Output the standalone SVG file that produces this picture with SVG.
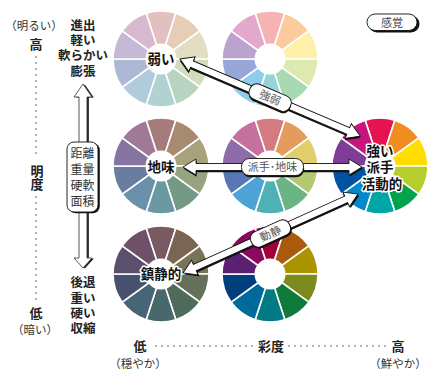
<svg xmlns="http://www.w3.org/2000/svg" xmlns:xlink="http://www.w3.org/1999/xlink" width="427" height="370" viewBox="0 0 427 370">
<style>
text{font-family:"Noto Sans CJK JP","Noto Sans CJK SC",sans-serif;}
.lbl{font-size:12.5px;font-weight:700;fill:#222;text-anchor:middle;}
.ax{font-size:13px;font-weight:700;fill:#222;text-anchor:middle;}
.pa{font-size:11.5px;fill:#333;text-anchor:middle;}
.bx{font-size:12px;fill:#333;text-anchor:middle;}
.wl{font-size:13.5px;font-weight:700;fill:#111;text-anchor:middle;stroke:#fff;stroke-width:3px;stroke-linejoin:round;paint-order:stroke;}
.pt{font-size:11px;fill:#555;text-anchor:middle;}
.seg{stroke:#fff;stroke-width:1.6;}
.hole{fill:#fff;}
.dots{stroke:#9a9a9a;stroke-width:2;stroke-linecap:round;stroke-dasharray:0 6;fill:none;}
.ash{fill:#111;}
.abody{fill:#fff;stroke:#111;stroke-width:0.9;stroke-linejoin:miter;}
.vbody{fill:#fff;stroke:#444;stroke-width:0.9;}
</style>
<defs>
<path id="s0" d="M0,0L-14.833,-45.651A48,48 0 0 1 14.833,-45.651Z"/>
<path id="s1" d="M0,0L14.833,-45.651A48,48 0 0 1 38.833,-28.214Z"/>
<path id="s2" d="M0,0L38.833,-28.214A48,48 0 0 1 48,0Z"/>
<path id="s3" d="M0,0L48,0A48,48 0 0 1 38.833,28.214Z"/>
<path id="s4" d="M0,0L38.833,28.214A48,48 0 0 1 14.833,45.651Z"/>
<path id="s5" d="M0,0L14.833,45.651A48,48 0 0 1 -14.833,45.651Z"/>
<path id="s6" d="M0,0L-14.833,45.651A48,48 0 0 1 -38.833,28.214Z"/>
<path id="s7" d="M0,0L-38.833,28.214A48,48 0 0 1 -48,0Z"/>
<path id="s8" d="M0,0L-48,0A48,48 0 0 1 -38.833,-28.214Z"/>
<path id="s9" d="M0,0L-38.833,-28.214A48,48 0 0 1 -14.833,-45.651Z"/>
</defs>

<!-- left axis -->
<g id="axis-brightness">
<text class="pa" x="34" y="30">（明るい）</text>
<text class="ax" x="36" y="49">高</text>
<line class="dots" x1="36" y1="57" x2="36" y2="158"/>
<text class="ax"><tspan x="37" y="175.5">明</tspan><tspan x="37" y="189">度</tspan></text>
<line class="dots" x1="36" y1="197" x2="36" y2="300"/>
<text class="ax"><tspan x="36" y="318">低</tspan><tspan class="pa" style="font-weight:400;fill:#333" x="35" y="334">（暗い）</tspan></text>
</g>

<g id="list-top">
<text class="lbl"><tspan x="83" y="30">進出</tspan><tspan x="83" y="45">軽い</tspan><tspan x="83" y="60">軟らかい</tspan><tspan x="83" y="76">膨張</tspan></text>
</g>
<g id="list-bottom">
<text class="lbl"><tspan x="83" y="287">後退</tspan><tspan x="83" y="303">重い</tspan><tspan x="83" y="318">硬い</tspan><tspan x="83" y="333">収縮</tspan></text>
</g>

<!-- bottom axis -->
<g id="axis-saturation">
<text class="ax"><tspan x="140" y="351">低</tspan><tspan style="font-size:11.5px;font-weight:400;fill:#333" x="138" y="368">（穏やか）</tspan></text>
<line class="dots" x1="156" y1="346" x2="253" y2="346"/>
<text class="ax" x="271" y="351">彩度</text>
<line class="dots" x1="289" y1="346" x2="386" y2="346"/>
<text class="ax"><tspan x="398" y="351">高</tspan><tspan style="font-size:11.5px;font-weight:400;fill:#333" x="398" y="368">（鮮やか）</tspan></text>
</g>

<g id="tag-kankaku">
<rect x="368.5" y="15.5" width="51" height="17" rx="8.5" fill="#111"/>
<rect x="367" y="14" width="50" height="16.5" rx="8.2" fill="#fff" stroke="#111" stroke-width="0.9"/>
<text class="pt" x="392" y="26.5" style="fill:#444">感覚</text>
</g>

<!-- wheels -->
<g id="wheel-pale" class="seg" transform="translate(161,59)">
<use xlink:href="#s0" fill="#E3C0C0"/><use xlink:href="#s1" fill="#E7CDB6"/><use xlink:href="#s2" fill="#E2DEC2"/><use xlink:href="#s3" fill="#D2DDBE"/><use xlink:href="#s4" fill="#B8D3BF"/><use xlink:href="#s5" fill="#B0D3CF"/><use xlink:href="#s6" fill="#AFCBDC"/><use xlink:href="#s7" fill="#AFB7D6"/><use xlink:href="#s8" fill="#C5B9D5"/><use xlink:href="#s9" fill="#D8BAD0"/>
<circle class="hole" r="15.5" stroke="none"/>
</g>
<g id="wheel-pastel" class="seg" transform="translate(270,59)">
<use xlink:href="#s0" fill="#F6B3B4"/><use xlink:href="#s1" fill="#FBCB9D"/><use xlink:href="#s2" fill="#FEF0A6"/><use xlink:href="#s3" fill="#DDE9AE"/><use xlink:href="#s4" fill="#A7D9B2"/><use xlink:href="#s5" fill="#96D5D7"/><use xlink:href="#s6" fill="#90CDEC"/><use xlink:href="#s7" fill="#97A8D8"/><use xlink:href="#s8" fill="#BCA3CD"/><use xlink:href="#s9" fill="#E3A8CC"/>
<circle class="hole" r="15.5" stroke="none"/>
</g>
<g id="wheel-dull" class="seg" transform="translate(161,166)">
<use xlink:href="#s0" fill="#A57C7B"/><use xlink:href="#s1" fill="#A78A70"/><use xlink:href="#s2" fill="#A8A27C"/><use xlink:href="#s3" fill="#97A27F"/><use xlink:href="#s4" fill="#749A86"/><use xlink:href="#s5" fill="#6B99A0"/><use xlink:href="#s6" fill="#6B90AB"/><use xlink:href="#s7" fill="#6A7CA0"/><use xlink:href="#s8" fill="#8675A0"/><use xlink:href="#s9" fill="#A07898"/>
<circle class="hole" r="15.5" stroke="none"/>
</g>
<g id="wheel-medium" class="seg" transform="translate(270,166)">
<use xlink:href="#s0" fill="#D47B82"/><use xlink:href="#s1" fill="#E39C5E"/><use xlink:href="#s2" fill="#E2CF6C"/><use xlink:href="#s3" fill="#B5C873"/><use xlink:href="#s4" fill="#69B585"/><use xlink:href="#s5" fill="#4DB1B6"/><use xlink:href="#s6" fill="#4DA3D6"/><use xlink:href="#s7" fill="#5676B5"/><use xlink:href="#s8" fill="#8D6CA8"/><use xlink:href="#s9" fill="#C5709F"/>
<circle class="hole" r="15.5" stroke="none"/>
</g>
<g id="wheel-vivid" class="seg" transform="translate(380,166)">
<use xlink:href="#s0" fill="#E5134F"/><use xlink:href="#s1" fill="#F18D1F"/><use xlink:href="#s2" fill="#FFDE00"/><use xlink:href="#s3" fill="#B5CE2B"/><use xlink:href="#s4" fill="#00A24C"/><use xlink:href="#s5" fill="#00A5A8"/><use xlink:href="#s6" fill="#0089CC"/><use xlink:href="#s7" fill="#0052A2"/><use xlink:href="#s8" fill="#7F3D97"/><use xlink:href="#s9" fill="#C7157F"/>
<circle class="hole" r="15.5" stroke="none"/>
</g>
<g id="wheel-dark" class="seg" transform="translate(161,274)">
<use xlink:href="#s0" fill="#7A5A62"/><use xlink:href="#s1" fill="#7A6552"/><use xlink:href="#s2" fill="#777555"/><use xlink:href="#s3" fill="#65705B"/><use xlink:href="#s4" fill="#4F6B5B"/><use xlink:href="#s5" fill="#47696B"/><use xlink:href="#s6" fill="#466577"/><use xlink:href="#s7" fill="#47516D"/><use xlink:href="#s8" fill="#5A4F6D"/><use xlink:href="#s9" fill="#6E5069"/>
<circle class="hole" r="15.5" stroke="none"/>
</g>
<g id="wheel-deep" class="seg" transform="translate(270,274)">
<use xlink:href="#s0" fill="#A0013C"/><use xlink:href="#s1" fill="#A95A0B"/><use xlink:href="#s2" fill="#AA9500"/><use xlink:href="#s3" fill="#7B8B1D"/><use xlink:href="#s4" fill="#0E7A3B"/><use xlink:href="#s5" fill="#007B83"/><use xlink:href="#s6" fill="#006A9B"/><use xlink:href="#s7" fill="#003F7B"/><use xlink:href="#s8" fill="#5B2071"/><use xlink:href="#s9" fill="#8B0A5F"/>
<circle class="hole" r="15.5" stroke="none"/>
</g>

<!-- connectors -->
<g id="connectors">
<g id="arrow-vertical">
<polygon class="ash" transform="translate(1.8,0.6)" points="83,84 74,97 79,97 79,258 74,258 83,268 92,258 87,258 87,97 92,97"/>
<polygon class="vbody" points="83,84 74,97 79,97 79,258 74,258 83,268 92,258 87,258 87,97 92,97"/>
<rect class="ash" x="68.8" y="143.2" width="31" height="70" rx="7"/>
<rect class="abody" x="67" y="142" width="31" height="70" rx="7"/>
<text class="bx"><tspan x="82.5" y="157.5">距離</tspan><tspan x="82.5" y="173.5">重量</tspan><tspan x="82.5" y="190">硬軟</tspan><tspan x="82.5" y="205.5">面積</tspan></text>
</g>
<g id="arrow-kyojaku" transform="translate(180,59) rotate(23.16)">
<polygon class="ash" transform="translate(0.6,1.8)" points="0,0 13,-8 13,-3.5 183,-3.5 183,-8 196,0 183,8 183,3.5 13,3.5 13,8"/>
<polygon class="abody" points="0,0 13,-8 13,-3.5 183,-3.5 183,-8 196,0 183,8 183,3.5 13,3.5 13,8"/>
<rect class="ash" x="76.6" y="-6.2" width="44" height="16" rx="7"/>
<rect class="abody" x="76" y="-8" width="44" height="16" rx="7"/>
<text class="pt" x="98" y="4">強弱</text>
</g>
<g id="arrow-hade" transform="translate(183,167)">
<polygon class="ash" transform="translate(0.6,1.8)" points="0,0 13,-8 13,-3.5 166,-3.5 166,-8 179,0 166,8 166,3.5 13,3.5 13,8"/>
<polygon class="abody" points="0,0 13,-8 13,-3.5 166,-3.5 166,-8 179,0 166,8 166,3.5 13,3.5 13,8"/>
<rect class="ash" x="59.1" y="-6.7" width="62" height="17" rx="8"/>
<rect class="abody" x="58.5" y="-8.5" width="62" height="17" rx="8"/>
<text class="pt" x="89.5" y="4">派手･地味</text>
</g>
<g id="arrow-dosei" transform="translate(183,273) rotate(-24.3)">
<polygon class="ash" transform="translate(0.6,1.8)" points="0,0 13,-8 13,-3.5 179,-3.5 179,-8 192,0 179,8 179,3.5 13,3.5 13,8"/>
<polygon class="abody" points="0,0 13,-8 13,-3.5 179,-3.5 179,-8 192,0 179,8 179,3.5 13,3.5 13,8"/>
<rect class="ash" x="75.6" y="-6.2" width="42" height="16" rx="7"/>
<rect class="abody" x="75" y="-8" width="42" height="16" rx="7"/>
<text class="pt" x="96" y="4">動静</text>
</g>
</g>

<!-- wheel labels -->
<g id="label-yowai"><text class="wl" x="161" y="64">弱い</text></g>
<g id="label-jimi"><text class="wl" x="161" y="172">地味</text></g>
<g id="label-chinsei"><text class="wl" x="161" y="279">鎮静的</text></g>
<g id="label-vivid">
<text class="wl"><tspan x="380" y="156">強い</tspan><tspan x="380" y="172">派手</tspan><tspan x="382" y="189">活動的</tspan></text>
</g>
</svg>
